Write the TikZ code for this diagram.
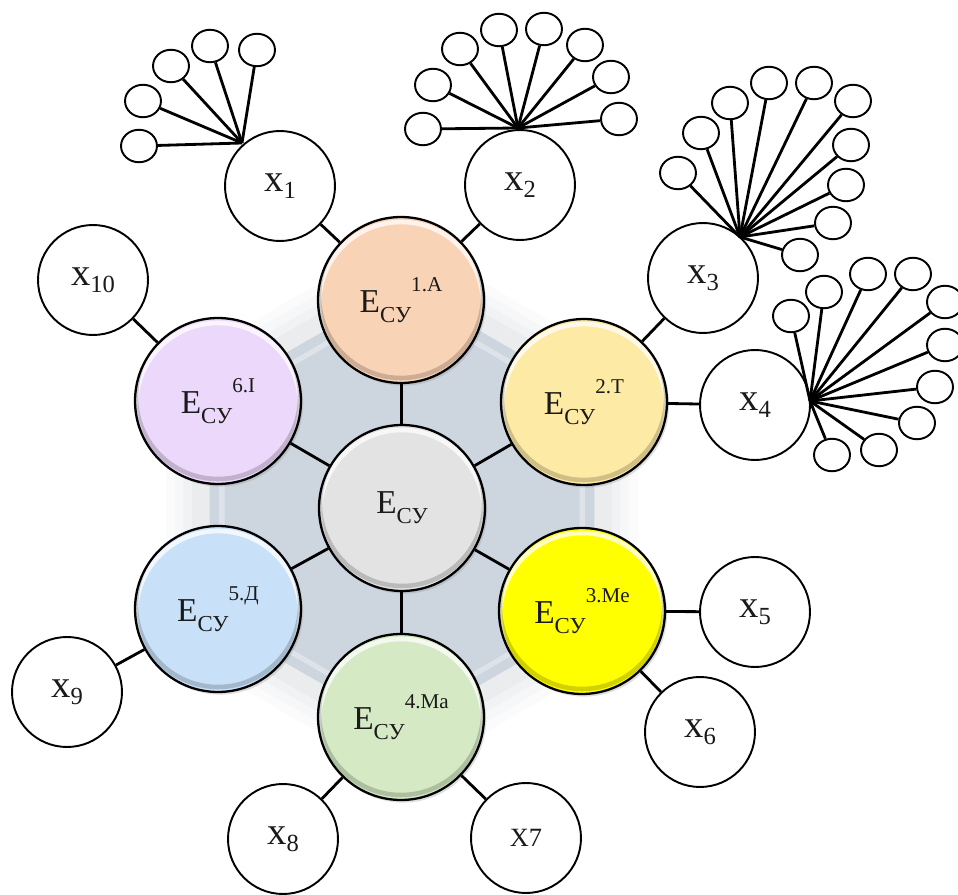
\documentclass[tikz,border=0pt]{standalone}
\usepackage{fontspec}
\setmainfont{Liberation Serif}
\usetikzlibrary{shapes.geometric,shadows,calc}
\definecolor{hexfill}{HTML}{CDD5DE}
\definecolor{hexglow}{HTML}{9AA3AD}
\definecolor{corefill}{HTML}{E3E3E3}
\definecolor{afill}{HTML}{F9D3B5}
\definecolor{tfill}{HTML}{FDEAA4}
\definecolor{mefill}{HTML}{FFFF00}
\definecolor{mafill}{HTML}{D5EAC4}
\definecolor{dfill}{HTML}{C8E1F8}
\definecolor{ifill}{HTML}{ECD8FA}
\definecolor{inkblack}{HTML}{1A1A1A}

\newcommand{\esu}[1]{{\fontsize{19}{19}\selectfont E}\raisebox{-5.5pt}{\fontsize{13}{13}\selectfont СУ}\raisebox{12pt}{\fontsize{12}{12}\selectfont #1}}
\newcommand{\xsub}[1]{{\fontsize{22}{22}\selectfont x}\raisebox{-4pt}{\fontsize{14}{14}\selectfont #1}}

\begin{document}
\begin{tikzpicture}[
    x=0.02cm, y=-0.02cm,
    every node/.style={text=inkblack},
    bevel/.style={path picture={
        \draw[white, opacity=.75, line width=2.6pt]
            ($(path picture bounding box.center)+(0,4)$) circle [radius=82];
        \draw[black, opacity=.18, line width=2.6pt]
            ($(path picture bounding box.center)+(0,-4)$) circle [radius=82];
    }},
    ring/.style={
        circle,
        draw=black,
        line width=1.3pt,
        minimum size=3.32cm,
        inner sep=0pt,
        bevel,
        drop shadow={opacity=.25, shadow xshift=1.2pt, shadow yshift=-1.5pt}
    },
    xnode/.style={circle, draw=black, line width=1.1pt, fill=white,
        minimum size=2.2cm, inner sep=0pt},
    leaf/.style={ellipse, draw=black, line width=1.1pt, fill=white,
        minimum width=0.72cm, minimum height=0.65cm, inner sep=0pt},
    link/.style={line width=1.6pt},
    stem/.style={line width=1.6pt}
]
\useasboundingbox (0,0) rectangle (958,895);

% hexagon behind the ring
\begin{scope}[shift={(402,508)}]
    \foreach \w/\o in {50/.04,40/.05,30/.06,20/.08}
        \draw[hexglow, line width=\w pt, opacity=\o, line join=round]
            (90:222) -- (30:222) -- (-30:222) -- (-90:222) -- (-150:222) -- (150:222) -- cycle;
    \fill[hexfill] (90:222) -- (30:222) -- (-30:222) -- (-90:222) -- (-150:222) -- (150:222) -- cycle;
    \draw[white, opacity=.35, line width=3pt, line join=round]
        (90:208) -- (30:208) -- (-30:208) -- (-90:208) -- (-150:208) -- (150:208) -- cycle;
\end{scope}

% centre and ring
\node[ring, fill=corefill] (core) at (402,508) {\esu{}};
\node[ring, fill=afill]  (sa)  at (401,300) {\esu{1.A}};
\node[ring, fill=tfill]  (st)  at (584,402) {\esu{2.T}};
\node[ring, fill=mefill] (sme) at (582,611) {\esu{3.Me}};
\node[ring, fill=mafill] (sma) at (401,717) {\esu{4.Ma}};
\node[ring, fill=dfill]  (sd)  at (218,609) {\esu{5.Д}};
\node[ring, fill=ifill]  (si)  at (218,401) {\esu{6.I}};

\foreach \s in {sa,st,sme,sma,sd,si}
    \draw[link] (core) -- (\s);

% outer factors
\node[xnode] (x1)  at (280,186) {\xsub{1}};
\node[xnode] (x2)  at (520,185) {\xsub{2}};
\node[xnode] (x3)  at (703,278) {\xsub{3}};
\node[xnode] (x4)  at (755,405) {\xsub{4}};
\node[xnode] (x5)  at (755,612) {\xsub{5}};
\node[xnode] (x6)  at (700,732) {\xsub{6}};
\node[xnode] (x7)  at (526,838) {\fontsize{15}{15}\selectfont X7};
\node[xnode] (x8)  at (283,839) {\xsub{8}};
\node[xnode] (x9)  at (67,692)  {\xsub{9}};
\node[xnode] (x10) at (93,280)  {\xsub{10}};

\draw[link] (x1) -- (sa);
\draw[link] (x2) -- (sa);
\draw[link] (x3) -- (st);
\draw[link] (x4) -- (st);
\draw[link] (x5) -- (sme);
\draw[link] (x6) -- (sme);
\draw[link] (x7) -- (sma);
\draw[link] (x8) -- (sma);
\draw[link] (x9) -- (sd);
\draw[link] (x10) -- (si);

% fans of sub-factors
\coordinate (hubA) at (242,143);
\coordinate (hubB) at (518,128);
\coordinate (hubC) at (740,237);
\coordinate (hubD) at (810,401);

\foreach \p [count=\i] in {(139,146),(143,101),(171,66),(210,46),(257,50)} {
    \node[leaf] (fa\i) at \p {};
    \draw[stem] (hubA) -- (fa\i);
}
\foreach \p [count=\i] in {(423,129),(433,85),(460,49),(499,30),(544,29),(585,45),(611,77),(619,119)} {
    \node[leaf] (fb\i) at \p {};
    \draw[stem] (hubB) -- (fb\i);
}
\foreach \p [count=\i] in {(678,173),(701,133),(730,103),(769,83),(814,83),(853,101),(851,145),(846,185),(833,223),(800,255)} {
    \node[leaf] (fc\i) at \p {};
    \draw[stem] (hubC) -- (fc\i);
}
\foreach \p [count=\i] in {(791,316),(824,292),(868,274),(913,274),(945,302),(945,345),(935,387),(917,423),(879,450),(832,455)} {
    \node[leaf] (fd\i) at \p {};
    \draw[stem] (hubD) -- (fd\i);
}

\end{tikzpicture}
\end{document}
